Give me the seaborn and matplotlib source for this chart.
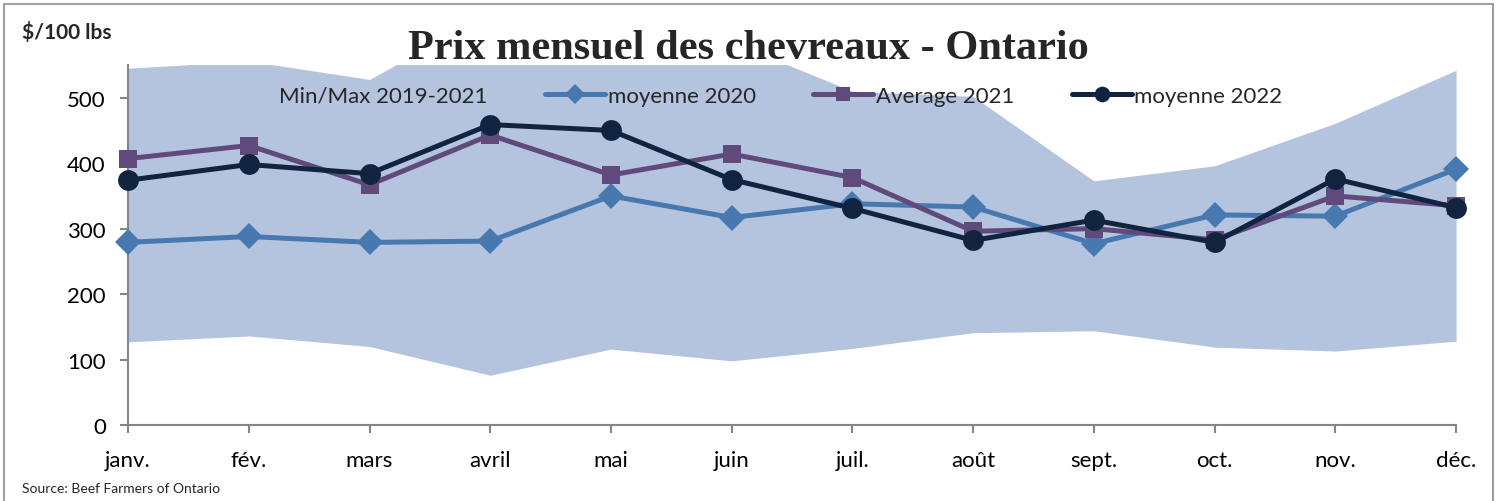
import numpy as np
import pandas as pd
import matplotlib
matplotlib.use("Agg")
import matplotlib.pyplot as plt
import seaborn as sns
from matplotlib.patches import Patch, Rectangle

sns.set_theme(style="white")
plt.rcParams['font.family'] = ['Lato', 'DejaVu Sans']

# Données
mois = ['janv.', 'fév.', 'mars', 'avril', 'mai', 'juin',
        'juil.', 'août', 'sept.', 'oct.', 'nov.', 'déc.']
min_2019_2021 = [127, 136, 120, 76, 116, 98, 117, 141, 144, 119, 113, 128]
max_2019_2021 = [545, 556, 528, 630, 600, 585, 510, 502, 373, 396, 461, 542]
moyenne_2020 = [279, 288, 279, 281, 350, 317, 338, 333, 277, 321, 319, 391]
average_2021 = [407, 427, 367, 443, 382, 414, 378, 296, 300, 283, 350, 335]
moyenne_2022 = [374, 398, 384, 459, 450, 375, 331, 282, 313, 279, 376, 332]

df = pd.DataFrame({
    'pos': np.arange(len(mois)),
    'mois': mois,
    'moyenne 2020': moyenne_2020,
    'Average 2021': average_2021,
    'moyenne 2022': moyenne_2022,
})

couleur_bande = '#b4c4de'
styles = {
    'moyenne 2020': dict(color='#4878b0', marker='D', markersize=13),
    'Average 2021': dict(color='#604a7b', marker='s', markersize=13),
    'moyenne 2022': dict(color='#10233f', marker='o', markersize=15),
}

fig = plt.figure(figsize=(14.96, 5.02), dpi=100)
ax = fig.add_axes([0.0856, 0.1514, 0.8877, 0.7171])

# Bande min/max
ax.fill_between(df['pos'], min_2019_2021, max_2019_2021,
                color=couleur_bande, linewidth=0, zorder=1)

for nom, st in styles.items():
    sns.lineplot(data=df, x='pos', y=nom, ax=ax, color=st['color'],
                 marker=st['marker'], markersize=st['markersize'],
                 markeredgewidth=0, linewidth=3.6, label=nom, zorder=3,
                 clip_on=False)

ax.set_xlim(0, 11)
ax.set_ylim(0, 550)
ax.set_xticks(df['pos'])
ax.set_xticklabels(mois)
ax.set_yticks([0, 100, 200, 300, 400, 500])
ax.set_xlabel('')
ax.set_ylabel('')

gris = '#868686'
for s in ['top', 'right']:
    ax.spines[s].set_visible(False)
for s in ['left', 'bottom']:
    ax.spines[s].set_color(gris)
    ax.spines[s].set_linewidth(1.5)
    ax.spines[s].set_zorder(2)
ax.tick_params(axis='both', which='major', direction='out', length=6,
               width=1.5, color=gris, labelsize=16, labelcolor='black')
ax.tick_params(axis='x', pad=12)
ax.tick_params(axis='y', pad=10, left=True)
ax.tick_params(axis='x', bottom=True)

# Légende
handles, labels = ax.get_legend_handles_labels()
handles = [Patch(color=couleur_bande)] + handles
labels = ['Min/Max 2019-2021'] + labels
ax.legend(handles, labels, loc='center', bbox_to_anchor=(0.468, 0.914),
          ncol=4, frameon=False, fontsize=16, handlelength=2.7,
          handletextpad=0.1, columnspacing=2.6, markerscale=0.75)

fig.text(0.5, 0.903, 'Prix mensuel des chevreaux - Ontario',
         ha='center', va='center', fontsize=30.5, fontweight='bold',
         family=['Liberation Serif', 'DejaVu Serif'])
fig.text(0.015, 0.935, '$/100 lbs', ha='left', va='center',
         fontsize=15, fontweight='bold')
fig.text(0.015, 0.025, 'Source: Beef Farmers of Ontario', ha='left',
         va='center', fontsize=10)

fig.patches.append(Rectangle((0.003, -0.05), 0.995, 1.04,
                             transform=fig.transFigure, fill=False,
                             edgecolor='#a0a0a0', linewidth=1.5))

fig.savefig('out.png', dpi=100)
